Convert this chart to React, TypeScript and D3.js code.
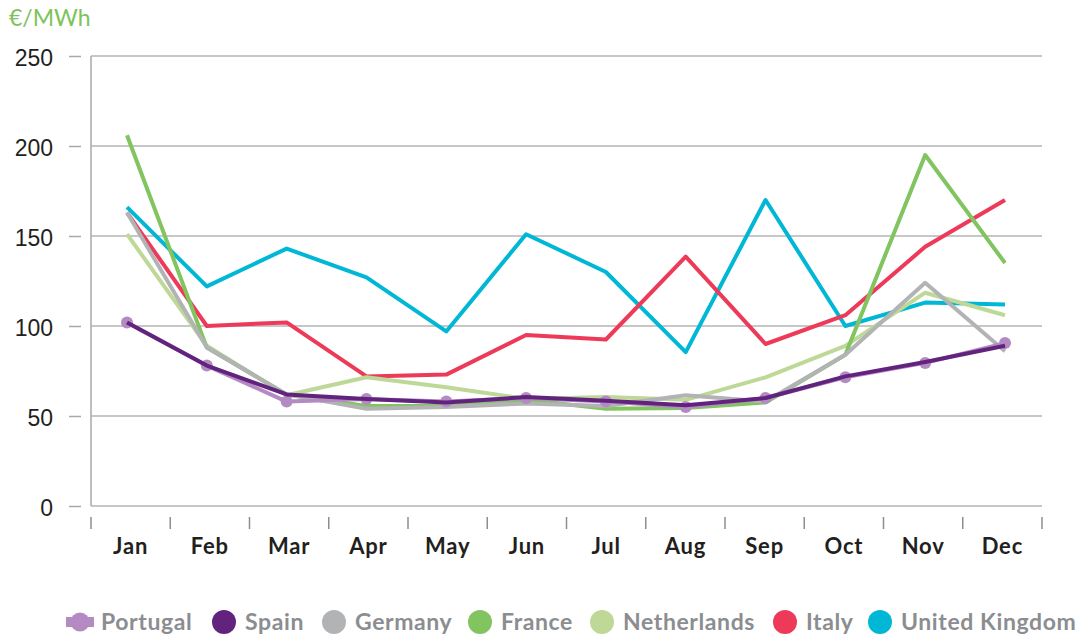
import React, { useEffect, useRef } from 'react';
import * as d3 from 'd3';

const WIDTH = 1078;
const HEIGHT = 636;
const MARGIN = { top: 56, right: 36, bottom: 130, left: 91 };

const months = ['Jan', 'Feb', 'Mar', 'Apr', 'May', 'Jun', 'Jul', 'Aug', 'Sep', 'Oct', 'Nov', 'Dec'];
const yTicks = [0, 50, 100, 150, 200, 250];

const portugal = [102, 78, 58, 59.5, 58, 60, 58, 55, 60, 71.5, 79.5, 90.5];
const spain = [102, 78, 62, 59.5, 57.5, 60.5, 58.5, 56, 60, 72, 80, 89];
const germany = [163, 88, 62, 54, 55, 57, 55.5, 61.5, 58, 84, 124, 86];
const france = [206, 88, 62, 55.5, 55.5, 59, 54, 54.5, 57.5, 84, 195, 135];
const netherlands = [151, 89, 61.5, 71.5, 66, 59.5, 60.5, 59, 71.5, 89, 118.5, 106];
const italy = [163, 100, 102, 72, 73, 95, 92.5, 138.5, 90, 106, 144, 170];
const uk = [166, 122, 143, 127, 97, 151, 130, 85.5, 170, 100, 113, 112];

const seriesNames = ['Portugal', 'Spain', 'Germany', 'France', 'Netherlands', 'Italy', 'United Kingdom'];
const seriesValues = [portugal, spain, germany, france, netherlands, italy, uk];
const seriesColors = ['#b38bc2', '#62237f', '#b1b3b5', '#82c460', '#bed897', '#ee3a59', '#00b8d5'];
// painting order, bottom first
const drawOrder = [6, 5, 4, 3, 2, 0, 1];

const legendX = [80, 224, 334, 480, 602, 785, 880];

const App = () => {
    const ref = useRef<SVGSVGElement>(null);

    useEffect(() => {
        const svg = d3.select(ref.current);
        svg.selectAll('*').remove();

        const x0 = MARGIN.left;
        const x1 = WIDTH - MARGIN.right;
        const yBottom = HEIGHT - MARGIN.bottom;

        const xBand = d3.scaleBand().domain(months).range([x0, x1]);
        const xPoint = d3.scalePoint().domain(months).range([x0 + 36, x1 - 37]);
        const y = d3.scaleLinear().domain([0, 250]).range([yBottom, MARGIN.top]);

        // gridlines
        svg.append('g')
            .selectAll('line')
            .data(yTicks)
            .join('line')
            .attr('x1', x0)
            .attr('x2', x1)
            .attr('y1', d => y(d))
            .attr('y2', d => y(d))
            .attr('stroke', '#b4b4b4')
            .attr('stroke-width', 1.5);

        svg.append('line')
            .attr('x1', x0).attr('x2', x0)
            .attr('y1', y(250)).attr('y2', yBottom)
            .attr('stroke', '#a8a8a8')
            .attr('stroke-width', 1.5);

        // y axis
        const yAxis = svg.append('g')
            .attr('transform', `translate(${x0 - 10},0)`)
            .call(d3.axisLeft(y).tickValues(yTicks).tickSize(12).tickPadding(16));
        yAxis.select('.domain').remove();
        yAxis.selectAll('.tick line').attr('stroke', '#a8a8a8').attr('stroke-width', 1.5);
        yAxis.selectAll('.tick text')
            .attr('fill', '#231f20')
            .attr('font-family', 'Liberation Sans, Arial, sans-serif')
            .attr('font-size', 23)
            .attr('dy', '0.42em');

        // x axis ticks at band edges
        const edges = months.map(m => xBand(m) as number).concat([x1]);
        svg.append('g')
            .selectAll('line')
            .data(edges)
            .join('line')
            .attr('x1', d => d).attr('x2', d => d)
            .attr('y1', yBottom + 11).attr('y2', yBottom + 23)
            .attr('stroke', '#8e8e8e')
            .attr('stroke-width', 1.5);

        svg.append('g')
            .selectAll('text')
            .data(months)
            .join('text')
            .attr('x', d => (xBand(d) as number) + xBand.bandwidth() / 2)
            .attr('y', yBottom + 48)
            .attr('text-anchor', 'middle')
            .attr('font-family', 'Lato, sans-serif')
            .attr('font-weight', 700)
            .attr('font-size', 22)
            .attr('letter-spacing', 0.8)
            .attr('fill', '#231f20')
            .text(d => d);

        // unit label
        svg.append('text')
            .attr('x', 9)
            .attr('y', 26)
            .attr('font-family', 'Lato, sans-serif')
            .attr('font-size', 23)
            .attr('fill', '#7dc35b')
            .text('€/MWh');

        // lines
        const line = d3.line<number>()
            .x((_, i) => xPoint(months[i]) as number)
            .y(d => y(d));

        drawOrder.forEach(s => {
            const g = svg.append('g');
            if (s === 0) {
                g.selectAll('circle')
                    .data(seriesValues[s])
                    .join('circle')
                    .attr('cx', (_, i) => xPoint(months[i]) as number)
                    .attr('cy', d => y(d))
                    .attr('r', 6)
                    .attr('fill', seriesColors[s]);
            }
            g.append('path')
                .datum(seriesValues[s])
                .attr('d', line)
                .attr('fill', 'none')
                .attr('stroke', seriesColors[s])
                .attr('stroke-width', 4)
                .attr('stroke-linejoin', 'round');
        });

        // legend
        const legendY = 622;
        const lg = svg.append('g');
        seriesNames.forEach((name, i) => {
            const cx = legendX[i];
            if (i === 0) {
                lg.append('rect')
                    .attr('x', cx - 14).attr('y', legendY - 5)
                    .attr('width', 28).attr('height', 10)
                    .attr('fill', seriesColors[i]);
                lg.append('circle')
                    .attr('cx', cx).attr('cy', legendY).attr('r', 9.5)
                    .attr('fill', seriesColors[i]);
            } else {
                lg.append('circle')
                    .attr('cx', cx).attr('cy', legendY).attr('r', 12)
                    .attr('fill', seriesColors[i]);
            }
            lg.append('text')
                .attr('x', cx + 21)
                .attr('y', legendY + 8)
                .attr('font-family', 'Lato, sans-serif')
                .attr('font-weight', 700)
                .attr('font-size', 23)
                .attr('letter-spacing', 0.6)
                .attr('fill', '#8b8d90')
                .text(name);
        });
    }, []);

    return (
        <svg
            ref={ref}
            width={WIDTH}
            height={HEIGHT}
            style={{ position: 'absolute', left: 0, top: 0, background: '#fff' }}
        />
    );
};

export default App;
